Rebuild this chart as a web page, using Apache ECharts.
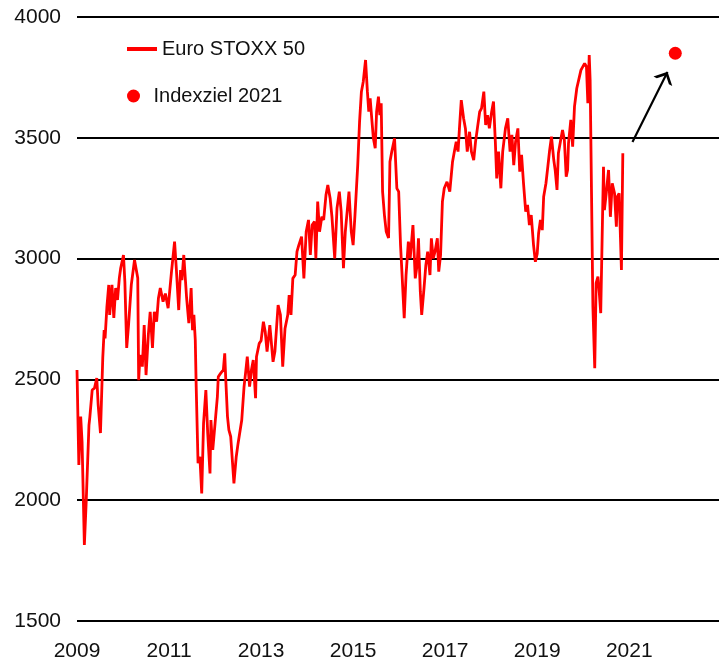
<!DOCTYPE html>
<html>
<head>
<meta charset="utf-8">
<script src="https://cdn.jsdelivr.net/npm/echarts@6/dist/echarts.min.js"></script>
<style>
  html, body { margin: 0; padding: 0; background: #fff; }
  #main { width: 719px; height: 669px; }
</style>
</head>
<body>
<div id="main"></div>
<script>
// Euro STOXX 50, Zeitpunkte als Dezimaljahr
var times = [
  2009.00, 2009.04, 2009.08, 2009.11, 2009.16, 2009.20, 2009.26, 2009.28, 2009.33, 2009.38,
  2009.43, 2009.46, 2009.51, 2009.56, 2009.59, 2009.61, 2009.65, 2009.69, 2009.71, 2009.76,
  2009.80, 2009.84, 2009.88, 2009.92, 2009.95, 2010.01, 2010.04, 2010.08, 2010.12, 2010.18,
  2010.25, 2010.32, 2010.34, 2010.37, 2010.42, 2010.46, 2010.50, 2010.55, 2010.59, 2010.64,
  2010.68, 2010.73, 2010.77, 2010.81, 2010.87, 2010.92, 2010.98, 2011.05, 2011.12, 2011.16,
  2011.21, 2011.25, 2011.28, 2011.32, 2011.38, 2011.43, 2011.45, 2011.48, 2011.51, 2011.54,
  2011.57, 2011.59, 2011.63, 2011.67, 2011.71, 2011.75, 2011.80, 2011.84, 2011.89, 2011.91,
  2011.95, 2012.00, 2012.05, 2012.07, 2012.12, 2012.18, 2012.21, 2012.23, 2012.27, 2012.30,
  2012.34, 2012.38, 2012.41, 2012.46, 2012.50, 2012.54, 2012.58, 2012.63, 2012.67, 2012.70,
  2012.75, 2012.79, 2012.83, 2012.88, 2012.90, 2012.96, 2013.00, 2013.05, 2013.09, 2013.13,
  2013.19, 2013.26, 2013.30, 2013.37, 2013.42, 2013.47, 2013.52, 2013.58, 2013.61, 2013.65,
  2013.69, 2013.74, 2013.78, 2013.82, 2013.88, 2013.93, 2013.98, 2014.03, 2014.07, 2014.11,
  2014.16, 2014.19, 2014.23, 2014.27, 2014.32, 2014.36, 2014.41, 2014.45, 2014.50, 2014.54,
  2014.57, 2014.60, 2014.65, 2014.70, 2014.74, 2014.79, 2014.83, 2014.87, 2014.91, 2014.96,
  2015.00, 2015.04, 2015.10, 2015.14, 2015.18, 2015.22, 2015.27, 2015.31, 2015.34, 2015.37,
  2015.41, 2015.44, 2015.48, 2015.51, 2015.55, 2015.58, 2015.61, 2015.64, 2015.68, 2015.72,
  2015.77, 2015.80, 2015.84, 2015.90, 2015.95, 2015.99, 2016.03, 2016.06, 2016.11, 2016.15,
  2016.20, 2016.24, 2016.30, 2016.35, 2016.39, 2016.42, 2016.46, 2016.49, 2016.54, 2016.58,
  2016.62, 2016.67, 2016.70, 2016.74, 2016.78, 2016.83, 2016.86, 2016.90, 2016.94, 2016.98,
  2017.04, 2017.10, 2017.16, 2017.20, 2017.24, 2017.28, 2017.31, 2017.35, 2017.40, 2017.44,
  2017.48, 2017.53, 2017.57, 2017.62, 2017.66, 2017.70, 2017.75, 2017.79, 2017.84, 2017.88,
  2017.92, 2017.96, 2018.01, 2018.05, 2018.09, 2018.12, 2018.16, 2018.21, 2018.25, 2018.31,
  2018.36, 2018.41, 2018.45, 2018.49, 2018.53, 2018.58, 2018.62, 2018.66, 2018.70, 2018.75,
  2018.79, 2018.83, 2018.87, 2018.92, 2018.96, 2019.00, 2019.03, 2019.07, 2019.11, 2019.14,
  2019.19, 2019.23, 2019.27, 2019.31, 2019.36, 2019.39, 2019.43, 2019.46, 2019.51, 2019.55,
  2019.59, 2019.63, 2019.66, 2019.68, 2019.73, 2019.77, 2019.81, 2019.86, 2019.90, 2019.95,
  2019.99, 2020.03, 2020.07, 2020.10, 2020.13, 2020.15, 2020.18, 2020.21, 2020.25, 2020.28,
  2020.32, 2020.35, 2020.38, 2020.41, 2020.44, 2020.46, 2020.50, 2020.55, 2020.59, 2020.63,
  2020.68, 2020.72, 2020.74, 2020.78, 2020.83, 2020.86
];
var euroStoxx = [
  2539, 2146, 2346, 2242, 1815, 1994, 2311, 2346, 2456, 2464,
  2506, 2394, 2278, 2589, 2704, 2670, 2801, 2891, 2767, 2891,
  2754, 2878, 2829, 2920, 2961, 3015, 2904, 2630, 2725, 2891,
  2994, 2920, 2497, 2601, 2553, 2725, 2518, 2684, 2780, 2630,
  2780, 2739, 2837, 2878, 2822, 2855, 2795, 2939, 3070, 2953,
  2787, 2953, 2911, 3015, 2842, 2733, 2780, 2878, 2704, 2767,
  2663, 2470, 2153, 2180, 2028, 2318, 2456, 2278, 2111, 2332,
  2208, 2318, 2428, 2511, 2525, 2539, 2608, 2511, 2346, 2291,
  2263, 2153, 2070, 2180, 2235, 2235, 2332, 2470, 2539, 2594,
  2470, 2539, 2580, 2422, 2594, 2649, 2660, 2739, 2697, 2615,
  2725, 2573, 2615, 2808, 2767, 2553, 2711, 2767, 2849, 2767,
  2918, 2932, 3029, 3056, 3091, 2918, 3111, 3160, 3015, 3139,
  3153, 3001, 3236, 3111, 3173, 3160, 3263, 3305, 3250, 3173,
  3170, 3001, 3209, 3277, 3195, 2960, 3111, 3115, 3277, 3111,
  3056, 3180, 3387, 3567, 3691, 3732, 3822, 3691, 3608, 3663,
  3567, 3498, 3457, 3608, 3670, 3594, 3643, 3277, 3180, 3111,
  3085, 3401, 3443, 3498, 3291, 3277, 3056, 2946, 2753, 2932,
  3070, 3001, 3139, 2918, 2973, 3084, 2863, 2767, 2877, 2973,
  3029, 2932, 3084, 3001, 3029, 3084, 2946, 3015, 3236, 3291,
  3318, 3277, 3401, 3443, 3484, 3443, 3539, 3656, 3581, 3539,
  3443, 3525, 3443, 3408, 3484, 3539, 3608, 3622, 3691, 3553,
  3594, 3539, 3608, 3650, 3484, 3332, 3443, 3291, 3443, 3539,
  3581, 3443, 3512, 3387, 3484, 3539, 3360, 3429, 3318, 3194,
  3222, 3139, 3180, 3056, 2987, 3020, 3105, 3160, 3118, 3256,
  3312, 3380, 3449, 3505, 3408, 3367, 3284, 3436, 3491, 3532,
  3491, 3339, 3367, 3477, 3574, 3463, 3629, 3705, 3698, 3780,
  3780, 3808, 3794, 3643, 3843, 3739, 3270, 2801, 2546, 2898,
  2925, 2856, 2774, 3077, 3380, 3201, 3270, 3367, 3173, 3312,
  3270, 3132, 3256, 3270, 2953, 3436
];

// Indexziel Ende 2021
var targetTime = [2022.0];
var targetValue = [3850];

// Pfeil (Anfang / Spitze)
var arrowFrom = [2021.07, 3483];
var arrowTo = [2021.83, 3772];

var yearTicks = [2009, 2011, 2013, 2015, 2017, 2019, 2021];

var fontName = '"Liberation Sans Narrow", "Liberation Sans", Arial, sans-serif';

var chart = echarts.init(document.getElementById('main'), null, { renderer: 'canvas' });

var lineData = times.map(function (t, i) { return [t, euroStoxx[i]]; });
var targetData = targetTime.map(function (t, i) { return [t, targetValue[i]]; });

var option = {
  animation: false,
  backgroundColor: '#fff',
  grid: {
    left: 77,
    right: 0,
    top: 17,
    bottom: 48,
    containLabel: false
  },
  legend: [
    {
      left: 127,
      top: 39,
      padding: 0,
      itemWidth: 30,
      itemHeight: 4,
      itemGap: 0,
      textStyle: { fontFamily: fontName, fontSize: 20, color: '#111' },
      data: [{ name: 'Euro STOXX 50', icon: 'rect' }]
    },
    {
      left: 127,
      top: 86,
      padding: 0,
      itemWidth: 30,
      itemHeight: 13,
      itemGap: 0,
      textStyle: { fontFamily: fontName, fontSize: 20, color: '#111' },
      data: [{ name: 'Indexziel 2021', icon: 'circle' }]
    }
  ],
  xAxis: {
    type: 'value',
    min: 2009,
    max: 2022.95,
    interval: 2,
    axisLine: { show: false },
    axisTick: { show: false },
    splitLine: { show: false },
    axisLabel: {
      margin: 20,
      fontFamily: fontName,
      fontSize: 21,
      color: '#111',
      showMaxLabel: false,
      formatter: function (v) {
        return yearTicks.indexOf(v) >= 0 ? String(v) : '';
      }
    }
  },
  yAxis: {
    type: 'value',
    min: 1500,
    max: 4000,
    interval: 500,
    axisLine: { show: false },
    axisTick: { show: false },
    splitLine: { lineStyle: { color: '#000', width: 2 } },
    axisLabel: {
      margin: 16,
      fontFamily: fontName,
      fontSize: 21,
      color: '#111',
      formatter: function (v) { return String(v); }
    }
  },
  series: [
    {
      name: 'Euro STOXX 50',
      type: 'line',
      data: lineData,
      showSymbol: false,
      symbol: 'none',
      color: '#ff0000',
      lineStyle: { color: '#ff0000', width: 2.8 },
      z: 3
    },
    {
      name: 'Indexziel 2021',
      type: 'scatter',
      data: targetData,
      symbol: 'circle',
      symbolSize: 13,
      color: '#ff0000',
      itemStyle: { color: '#ff0000', opacity: 1 },
      markLine: {
        silent: true,
        symbol: ['none', 'path://M0,9 L9,0 L18,9 L14.8,9 L9,3.2 L3.2,9 Z'],
        symbolSize: [21, 10.5],
        symbolOffset: [[0, 0], [0, 5]],
        lineStyle: { color: '#000', width: 2.2, type: 'solid' },
        itemStyle: { color: '#000' },
        label: { show: false },
        emphasis: { disabled: true },
        data: [[{ coord: arrowFrom }, { coord: arrowTo }]]
      },
      z: 4
    }
  ]
};

chart.setOption(option);
</script>
</body>
</html>
